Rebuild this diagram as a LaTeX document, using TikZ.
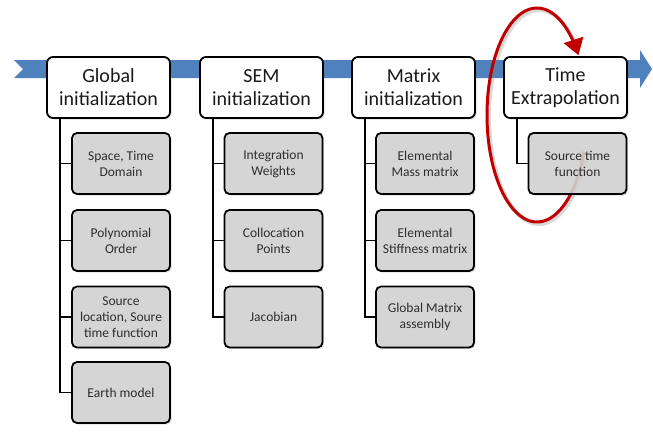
\documentclass[tikz,border=0pt]{standalone}
\usepackage{fontspec}
\setmainfont{Carlito}
\usetikzlibrary{shadows,arrows.meta}
\definecolor{bandblue}{HTML}{4F81BD}
\definecolor{subgray}{HTML}{D4D4D4}
\definecolor{arcred}{HTML}{C00000}
\definecolor{maintext}{HTML}{1A1A1A}
\definecolor{subtext}{HTML}{2E2E2E}
\begin{document}
\begin{tikzpicture}[x=1pt,y=-1pt,
  mainbox/.style={draw=black, line width=1.8pt, fill=white, rounded corners=6pt,
    minimum width=123pt, minimum height=61pt, inner sep=0pt, align=center,
    text=maintext, font=\fontsize{20}{23}\selectfont,
    drop shadow={shadow xshift=1.5pt, shadow yshift=-1.5pt, opacity=0.25}},
  subbox/.style={draw=black, line width=1.8pt, fill=subgray, fill opacity=0.88, text opacity=1,
    rounded corners=5pt, minimum width=98pt, minimum height=61pt, inner sep=0pt,
    align=center, text=subtext, font=\fontsize{13.5}{16}\selectfont,
    drop shadow={shadow xshift=1.5pt, shadow yshift=-1.5pt, opacity=0.25}},
  link/.style={draw=black, line width=1.8pt}
]
\useasboundingbox (0,0) rectangle (653,432);
% blue band arrow
\fill[bandblue] (14,60) -- (640,60) -- (640,50) -- (652,69) -- (640,88) -- (640,78)
  -- (14,78) -- (23,69) -- cycle;
% red loop arrow (shadow then arc)
\draw[gray, opacity=0.3, line width=4pt]
  plot[domain=-20:-322, samples=120, smooth] ({539+50*cos(\x)},{117-107*sin(\x)});
\draw[arcred, line width=3pt, -{Triangle[length=16pt,width=20pt]}]
  plot[domain=-20:-326, samples=120, smooth] ({537+50*cos(\x)},{115-107*sin(\x)});
% main boxes
\node[mainbox] (g) at (108.5,87.5) {Global\\initialization};
\node[mainbox] (s) at (261.5,87.5) {SEM\\initialization};
\node[mainbox] (m) at (413.5,87.5) {Matrix\\initialization};
\node[mainbox] (t) at (565.5,87.5) {Time\\Extrapolation};
% sub boxes: Global
\node[subbox] (g1) at (121,163.5) {Space, Time\\Domain};
\node[subbox] (g2) at (121,240.5) {Polynomial\\Order};
\node[subbox] (g3) at (121,317) {Source\\location, Soure\\time function};
\node[subbox] (g4) at (121,392.5) {Earth model};
% SEM
\node[subbox] (s1) at (273.5,163.5) {Integration\\Weights};
\node[subbox] (s2) at (273.5,240.5) {Collocation\\Points};
\node[subbox] (s3) at (273.5,317) {Jacobian};
% Matrix
\node[subbox] (m1) at (425,163.5) {Elemental\\Mass matrix};
\node[subbox] (m2) at (425,240.5) {Elemental\\Stiffness matrix};
\node[subbox] (m3) at (425,317) {Global Matrix\\assembly};
% Time
\node[subbox] (t1) at (577.5,163.5) {Source time\\function};
% connectors
\foreach \p/\c in {g/g1,g/g2,g/g3,g/g4,s/s1,s/s2,s/s3,m/m1,m/m2,m/m3,t/t1}
  \draw[link] ([xshift=14pt]\p.south west) |- (\c.west);
\end{tikzpicture}
\end{document}
